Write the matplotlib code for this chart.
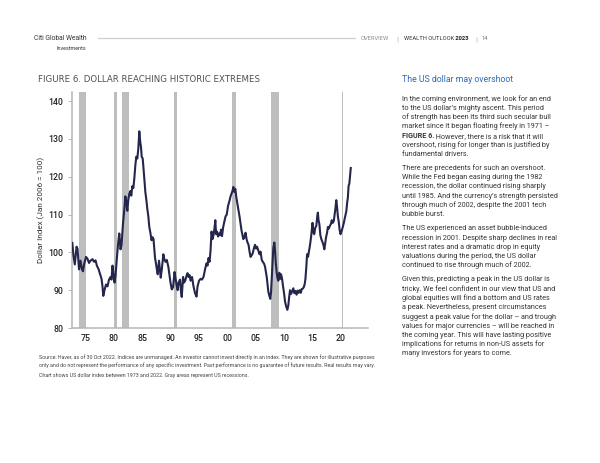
import matplotlib
matplotlib.use("Agg")
import matplotlib.pyplot as plt
from matplotlib import font_manager
from matplotlib.lines import Line2D
from matplotlib.text import Annotation

# dollar index (Jan 2006 = 100)
dates = [1972.71, 1972.92, 1973.15, 1973.45, 1973.62, 1973.89, 1974.15, 1974.41, 1974.59, 1974.80,
         1975.12, 1975.38, 1975.65, 1975.91, 1976.26, 1976.53, 1976.79, 1977.05, 1977.32, 1977.58,
         1977.85, 1978.02, 1978.16, 1978.37, 1978.64, 1978.90, 1979.17, 1979.43, 1979.61, 1979.78,
         1979.96, 1980.14, 1980.31, 1980.58, 1980.80, 1980.98, 1981.19, 1981.37, 1981.63, 1981.90,
         1982.04, 1982.20, 1982.39, 1982.57, 1982.74, 1982.92, 1983.09, 1983.27, 1983.45, 1983.62,
         1983.80, 1983.97, 1984.15, 1984.33, 1984.50, 1984.68, 1984.80, 1984.92, 1985.10, 1985.24,
         1985.38, 1985.56, 1985.73, 1985.91, 1986.09, 1986.26, 1986.47, 1986.65, 1986.83, 1987.00,
         1987.14, 1987.27, 1987.44, 1987.62, 1987.74, 1987.97, 1988.15, 1988.27, 1988.46, 1988.73,
         1988.94, 1989.11, 1989.34, 1989.61, 1989.82, 1989.99, 1990.21, 1990.44, 1990.70, 1990.88,
         1991.10, 1991.26, 1991.40, 1991.67, 1991.84, 1991.97, 1992.20, 1992.37, 1992.58, 1992.81,
         1992.99, 1993.16, 1993.34, 1993.52, 1993.78, 1994.04, 1994.31, 1994.57, 1994.75, 1995.01,
         1995.28, 1995.54, 1995.80, 1996.07, 1996.33, 1996.51, 1996.68, 1996.86, 1997.04, 1997.21,
         1997.39, 1997.57, 1997.74, 1997.88, 1998.01, 1998.18, 1998.36, 1998.53, 1998.71, 1998.89,
         1999.06, 1999.24, 1999.45, 1999.68, 1999.89, 2000.12, 2000.35, 2000.56, 2000.73, 2000.91,
         2001.05, 2001.23, 2001.40, 2001.58, 2001.76, 2001.97, 2002.14, 2002.32, 2002.49, 2002.67,
         2002.81, 2003.02, 2003.20, 2003.38, 2003.55, 2003.73, 2003.90, 2004.08, 2004.26, 2004.47,
         2004.66, 2004.87, 2005.05, 2005.22, 2005.45, 2005.66, 2005.84, 2006.05, 2006.24, 2006.46,
         2006.63, 2006.77, 2006.93, 2007.07, 2007.21, 2007.39, 2007.55, 2007.69, 2007.81, 2007.95,
         2008.09, 2008.27, 2008.39, 2008.52, 2008.66, 2008.80, 2008.97, 2009.15, 2009.33, 2009.45,
         2009.63, 2009.80, 2009.98, 2010.15, 2010.33, 2010.56, 2010.73, 2010.86, 2011.03, 2011.21,
         2011.39, 2011.61, 2011.79, 2011.97, 2012.18, 2012.35, 2012.53, 2012.74, 2012.92, 2013.09,
         2013.27, 2013.45, 2013.59, 2013.73, 2013.89, 2014.03, 2014.20, 2014.38, 2014.55, 2014.73,
         2014.87, 2014.99, 2015.14, 2015.29, 2015.47, 2015.65, 2015.82, 2015.93, 2016.05, 2016.19,
         2016.37, 2016.54, 2016.72, 2016.90, 2017.07, 2017.23, 2017.37, 2017.55, 2017.69, 2017.86,
         2018.04, 2018.22, 2018.37, 2018.55, 2018.73, 2018.87, 2019.01, 2019.17, 2019.31, 2019.45,
         2019.61, 2019.75, 2019.92, 2020.10, 2020.28, 2020.45, 2020.63, 2020.80, 2020.95, 2021.07,
         2021.21, 2021.33, 2021.47, 2021.60, 2021.72]
dollar_idx = [102.5, 99.0, 96.8, 101.5, 101.0, 95.5, 97.8, 95.5, 95.0, 97.0,
              98.8, 98.3, 97.2, 97.8, 98.2, 97.5, 97.9, 96.4, 95.6, 94.3,
              93.0, 91.0, 88.5, 90.0, 91.5, 91.0, 92.8, 93.5, 92.8, 96.5,
              94.0, 92.0, 93.8, 99.0, 102.8, 105.0, 100.8, 102.0, 107.6, 112.0,
              114.8, 113.5, 111.0, 114.0, 115.5, 116.2, 115.0, 117.5, 117.0, 119.5,
              123.0, 125.3, 124.8, 127.5, 132.0, 129.0, 127.8, 125.3, 124.8, 122.0,
              119.5, 116.0, 114.0, 111.5, 109.5, 106.7, 105.0, 103.2, 104.0, 103.5,
              101.0, 98.5, 97.0, 95.2, 94.2, 97.8, 95.0, 93.3, 95.5, 99.5,
              98.0, 97.5, 98.0, 96.2, 93.8, 92.0, 90.2, 90.8, 94.8, 93.0,
              91.0, 90.0, 92.0, 92.8, 89.5, 88.2, 93.5, 92.0, 92.5, 93.8,
              94.5, 93.5, 94.0, 92.5, 93.5, 91.0, 89.2, 88.3, 91.0, 92.5,
              93.0, 92.8, 93.5, 95.5, 97.1, 96.5, 98.5, 97.5, 100.5, 105.5,
              103.5, 104.6, 106.5, 108.5, 104.8, 105.5, 104.2, 105.0, 104.5, 106.0,
              104.3, 106.5, 108.0, 109.5, 110.0, 112.3, 113.5, 114.8, 115.5, 116.3,
              117.3, 116.0, 116.8, 114.5, 112.8, 111.0, 109.5, 107.5, 105.8, 104.5,
              103.5, 104.2, 105.2, 103.5, 102.6, 102.0, 100.2, 98.8, 99.2, 99.8,
              101.0, 102.0, 101.0, 101.5, 100.5, 99.5, 100.2, 98.0, 97.5, 97.0,
              96.2, 95.0, 93.5, 91.5, 89.6, 88.5, 87.7, 89.5, 93.0, 97.5,
              101.2, 102.6, 100.5, 97.3, 95.0, 93.3, 92.5, 94.6, 93.0, 94.2,
              93.0, 91.0, 89.2, 87.0, 85.8, 84.8, 86.0, 88.0, 90.0, 89.0,
              89.7, 90.5, 89.2, 89.8, 88.8, 89.9, 89.3, 90.0, 89.3, 90.3,
              90.4, 90.8, 91.5, 92.8, 96.0, 99.5, 98.8, 100.5, 102.0, 104.0,
              106.0, 107.8, 105.3, 104.8, 106.5, 107.0, 109.5, 110.5, 108.5, 107.5,
              104.5, 103.5, 102.8, 102.0, 100.8, 102.5, 104.0, 105.2, 106.7, 106.3,
              107.0, 107.5, 108.5, 107.8, 108.3, 109.8, 111.5, 113.8, 112.0, 109.5,
              108.0, 106.0, 104.8, 105.6, 106.5, 107.5, 108.8, 110.0, 111.0, 113.0,
              114.5, 117.5, 118.2, 120.5, 122.3]

# US recessions (gray bands)
rec_start = [1973.95, 1980.0, 1981.5, 1990.65, 2000.9, 2007.65, 2020.12]
rec_end = [1975.1, 1980.5, 1982.75, 1991.2, 2001.45, 2009.05, 2020.36]

x_ticks = [1975, 1980, 1985, 1990, 1995, 2000, 2005, 2010, 2015, 2020]
x_labels = ["75", "80", "85", "90", "95", "00", "05", "10", "15", "20"]
y_ticks = [80, 90, 100, 110, 120, 130, 140]

para1 = ["In the coming environment, we look for an end",
         "to the US dollar\u2019s mighty ascent. This period",
         "of strength has been its third such secular bull",
         "market since it began floating freely in 1971 \u2013",
         None,
         "overshoot, rising for longer than is justified by",
         "fundamental drivers."]
para2 = ["There are precedents for such an overshoot.",
         "While the Fed began easing during the 1982",
         "recession, the dollar continued rising sharply",
         "until 1985. And the currency\u2019s strength persisted",
         "through much of 2002, despite the 2001 tech",
         "bubble burst."]
para3 = ["The US experienced an asset bubble-induced",
         "recession in 2001. Despite sharp declines in real",
         "interest rates and a dramatic drop in equity",
         "valuations during the period, the US dollar",
         "continued to rise through much of 2002."]
para4 = ["Given this, predicting a peak in the US dollar is",
         "tricky. We feel confident in our view that US and",
         "global equities will find a bottom and US rates",
         "a peak. Nevertheless, present circumstances",
         "suggest a peak value for the dollar \u2013 and trough",
         "values for major currencies \u2013 will be reached in",
         "the coming year. This will have lasting positive",
         "implications for returns in non-US assets for",
         "many investors for years to come."]
notes = ["Source: Haver, as of 30 Oct 2022. Indices are unmanaged. An investor cannot invest directly in an index. They are shown for illustrative purposes",
         "only and do not represent the performance of any specific investment. Past performance is no guarantee of future results. Real results may vary."]
note2 = "Chart shows US dollar index between 1973 and 2022. Gray areas represent US recessions."

W, H = 600, 463
have = {f.name for f in font_manager.fontManager.ttflist}
if "Liberation Sans Narrow" in have:
    NARROW, k = "Liberation Sans Narrow", 1.0
else:
    NARROW, k = "Roboto", 0.84

TXT = "#353535"
fig = plt.figure(figsize=(W / 100, H / 100), dpi=100)


def ftext(x, y, s, **kw):
    return fig.text(x / W, 1 - y / H, s, **kw)


def after(prev, s, **kw):
    # put s right after the text artist prev, on the same baseline
    a = Annotation(s, xy=(1, 0), xycoords=prev, ha="left", va="bottom",
                   annotation_clip=False, **kw)
    fig.add_artist(a)
    return a


# header
ftext(34, 38, "Citi Global Wealth", family=NARROW, size=5.8 * k, color="#333", va="center")
ftext(86, 48, "Investments", family=NARROW, size=4.6 * k, color="#333", va="center", ha="right")
fig.add_artist(Line2D([98 / W, 355 / W], [1 - 38 / H, 1 - 38 / H], color="#cfcfcf", lw=0.9))
ftext(361, 39, "OVERVIEW", family="DejaVu Sans", size=3.9, color="#8a8a8a", va="center")
ftext(397, 39, "|", family="DejaVu Sans", size=4.5, color="#aaa", va="center", ha="center")
w = ftext(404, 39, "WEALTH OUTLOOK", family=NARROW, size=4.95 * k, color="#333", va="center")
after(w, " 2023", family=NARROW, size=4.95 * k, color="#222", weight="bold")
ftext(476, 39, "|", family="DejaVu Sans", size=4.5, color="#aaa", va="center", ha="center")
ftext(482, 39, "14", family=NARROW, size=4.8 * k, color="#777", va="center")

# titles
ftext(38, 80, "FIGURE 6. DOLLAR REACHING HISTORIC EXTREMES", family="DejaVu Sans",
      size=6.25, color="#4d4f53", va="center")
ftext(402, 80, "The US dollar may overshoot", family=NARROW, size=7.5 * k,
      color="#2f6db3", va="center")

# right column
bsize = 6.25 * k
body = dict(family=NARROW, size=bsize, color=TXT, va="center")
starts = [99, 168.5, 228.8, 279.9]
for top, para in zip(starts, [para1, para2, para3, para4]):
    for i, line in enumerate(para):
        y = top + i * 9.2
        if line is None:
            b = ftext(402, y, "FIGURE 6.", weight="bold", **body)
            after(b, " However, there is a risk that it will", family=NARROW,
                  size=bsize, color=TXT)
        else:
            ftext(402, y, line, **body)

# footnotes
foot = dict(family=NARROW, size=4.55 * k, color="#444", va="center")
ftext(39, 357, notes[0], **foot)
ftext(39, 365, notes[1], **foot)
ftext(39, 376, note2, **foot)

# chart
ax = fig.add_axes([71.7 / W, 1 - 328 / H, 296 / W, 236 / H])
for s, e in zip(rec_start, rec_end):
    ax.axvspan(s, e, color="#bebebe", lw=0, zorder=1)
ax.plot(dates, dollar_idx, color="#24264b", lw=1.5, zorder=3)
ax.set_xlim(1972.6, 2024.7)
ax.set_ylim(80, 142.4)
ax.set_xticks(x_ticks)
ax.set_xticklabels(x_labels)
ax.set_yticks(y_ticks)
for sp in ["top", "right"]:
    ax.spines[sp].set_visible(False)
for sp in ["left", "bottom"]:
    ax.spines[sp].set_color("#b5b5b5")
    ax.spines[sp].set_linewidth(1.1)
ax.tick_params(axis="y", length=3, width=0.7, color="#b5b5b5", pad=3,
               labelsize=6.3, labelcolor="#222")
ax.tick_params(axis="x", length=0, pad=4.5, labelsize=6.3, labelcolor="#222")
for lab in ax.get_xticklabels() + ax.get_yticklabels():
    lab.set_family("Roboto")
    lab.set_weight("medium")

ftext(41, 210, "Dollar Index (Jan 2006 = 100)", family="Roboto", size=5.9,
      color="#333", rotation=90, va="center", ha="center")

fig.savefig("out.png", dpi=100)
